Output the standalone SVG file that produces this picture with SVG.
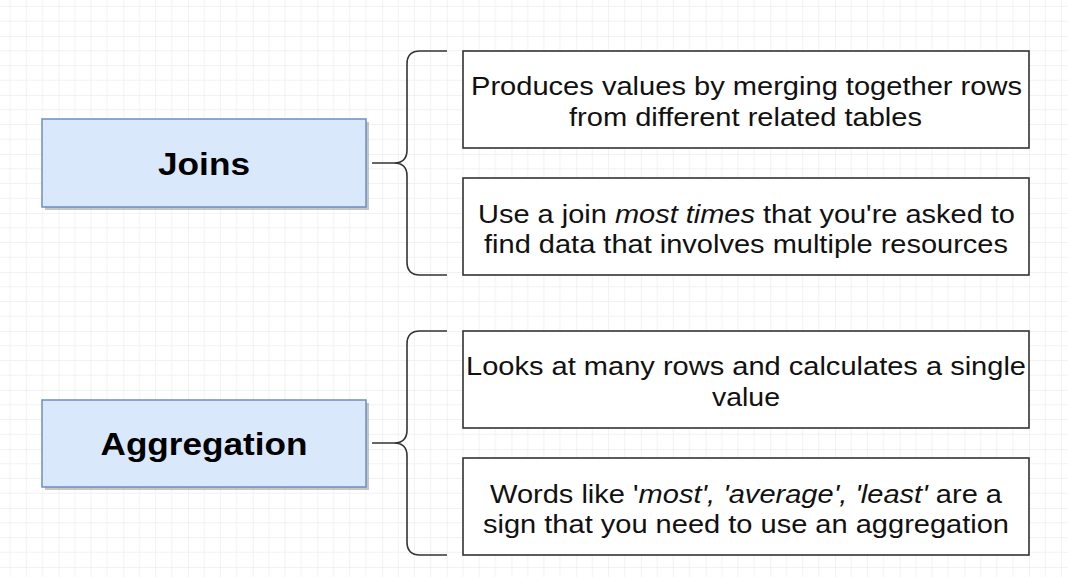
<svg xmlns="http://www.w3.org/2000/svg" width="1068" height="577" viewBox="0 0 1068 577">
<defs>
<pattern id="grid" x="-6.1" y="36" width="64.7" height="59" patternUnits="userSpaceOnUse">
<path d="M16.17,0V59M32.35,0V59M48.52,0V59M0,14.75H64.7M0,29.5H64.7M0,44.25H64.7" stroke="#f2f2f2" stroke-width="1" fill="none"/>
<path d="M0,0V59M0,0H64.7" stroke="#e6e6e6" stroke-width="1" fill="none"/>
</pattern>
<style>
.topic{fill:#dae8fc;stroke:#6c8ebf;stroke-width:1.5}
.shadow{fill:#a0a0a0;opacity:0.6}
.topic-text{font-family:"Liberation Sans",Arial,sans-serif;font-weight:bold;font-size:32px;fill:#000;text-anchor:middle}
.card{fill:#fff;stroke:#333;stroke-width:1.6}
.card-text{font-family:"Liberation Sans",Arial,sans-serif;font-size:25px;fill:#111;text-anchor:middle}
.brace{fill:none;stroke:#333;stroke-width:1.6}
</style>
</defs>
<rect width="1068" height="577" fill="#fff"/>
<rect width="1068" height="577" fill="url(#grid)"/>

<g id="connectors">
<path class="brace" d="M372,163H394M447,51H420Q407,51 407,64V150Q407,163 394,163Q407,163 407,176V262Q407,275 420,275H447"/>
<path class="brace" d="M372,443H394M447,331H420Q407,331 407,344V430Q407,443 394,443Q407,443 407,456V542Q407,555 420,555H447"/>
</g>

<g id="joins">
<rect class="shadow" x="45" y="122" width="324" height="88"/>
<rect class="topic" x="42" y="119" width="324" height="88"/>
<text class="topic-text" x="204" y="175" textLength="92" lengthAdjust="spacingAndGlyphs">Joins</text>
</g>

<g id="aggregation">
<rect class="shadow" x="45" y="403" width="324" height="87"/>
<rect class="topic" x="42" y="400" width="324" height="87"/>
<text class="topic-text" x="204" y="455" textLength="207" lengthAdjust="spacingAndGlyphs">Aggregation</text>
</g>

<g id="joins-def">
<rect class="card" x="463" y="51" width="566" height="97"/>
<text class="card-text" x="746.5" y="95" textLength="551" lengthAdjust="spacingAndGlyphs">Produces values by merging together rows</text>
<text class="card-text" x="745.5" y="126" textLength="353" lengthAdjust="spacingAndGlyphs">from different related tables</text>
</g>

<g id="joins-usage">
<rect class="card" x="463" y="178" width="566" height="97"/>
<text class="card-text" x="746.5" y="223" textLength="537" lengthAdjust="spacingAndGlyphs">Use a join <tspan font-style="italic">most times</tspan> that you're asked to</text>
<text class="card-text" x="746" y="253" textLength="524" lengthAdjust="spacingAndGlyphs">find data that involves multiple resources</text>
</g>

<g id="agg-def">
<rect class="card" x="463" y="331" width="566" height="97"/>
<text class="card-text" x="746" y="375" textLength="560" lengthAdjust="spacingAndGlyphs">Looks at many rows and calculates a single</text>
<text class="card-text" x="746" y="406" textLength="68" lengthAdjust="spacingAndGlyphs">value</text>
</g>

<g id="agg-usage">
<rect class="card" x="463" y="458" width="566" height="97"/>
<text class="card-text" x="746" y="503" textLength="512" lengthAdjust="spacingAndGlyphs">Words like '<tspan font-style="italic">most', 'average', 'least'</tspan> are a</text>
<text class="card-text" x="746" y="533" textLength="526" lengthAdjust="spacingAndGlyphs">sign that you need to use an aggregation</text>
</g>
</svg>
